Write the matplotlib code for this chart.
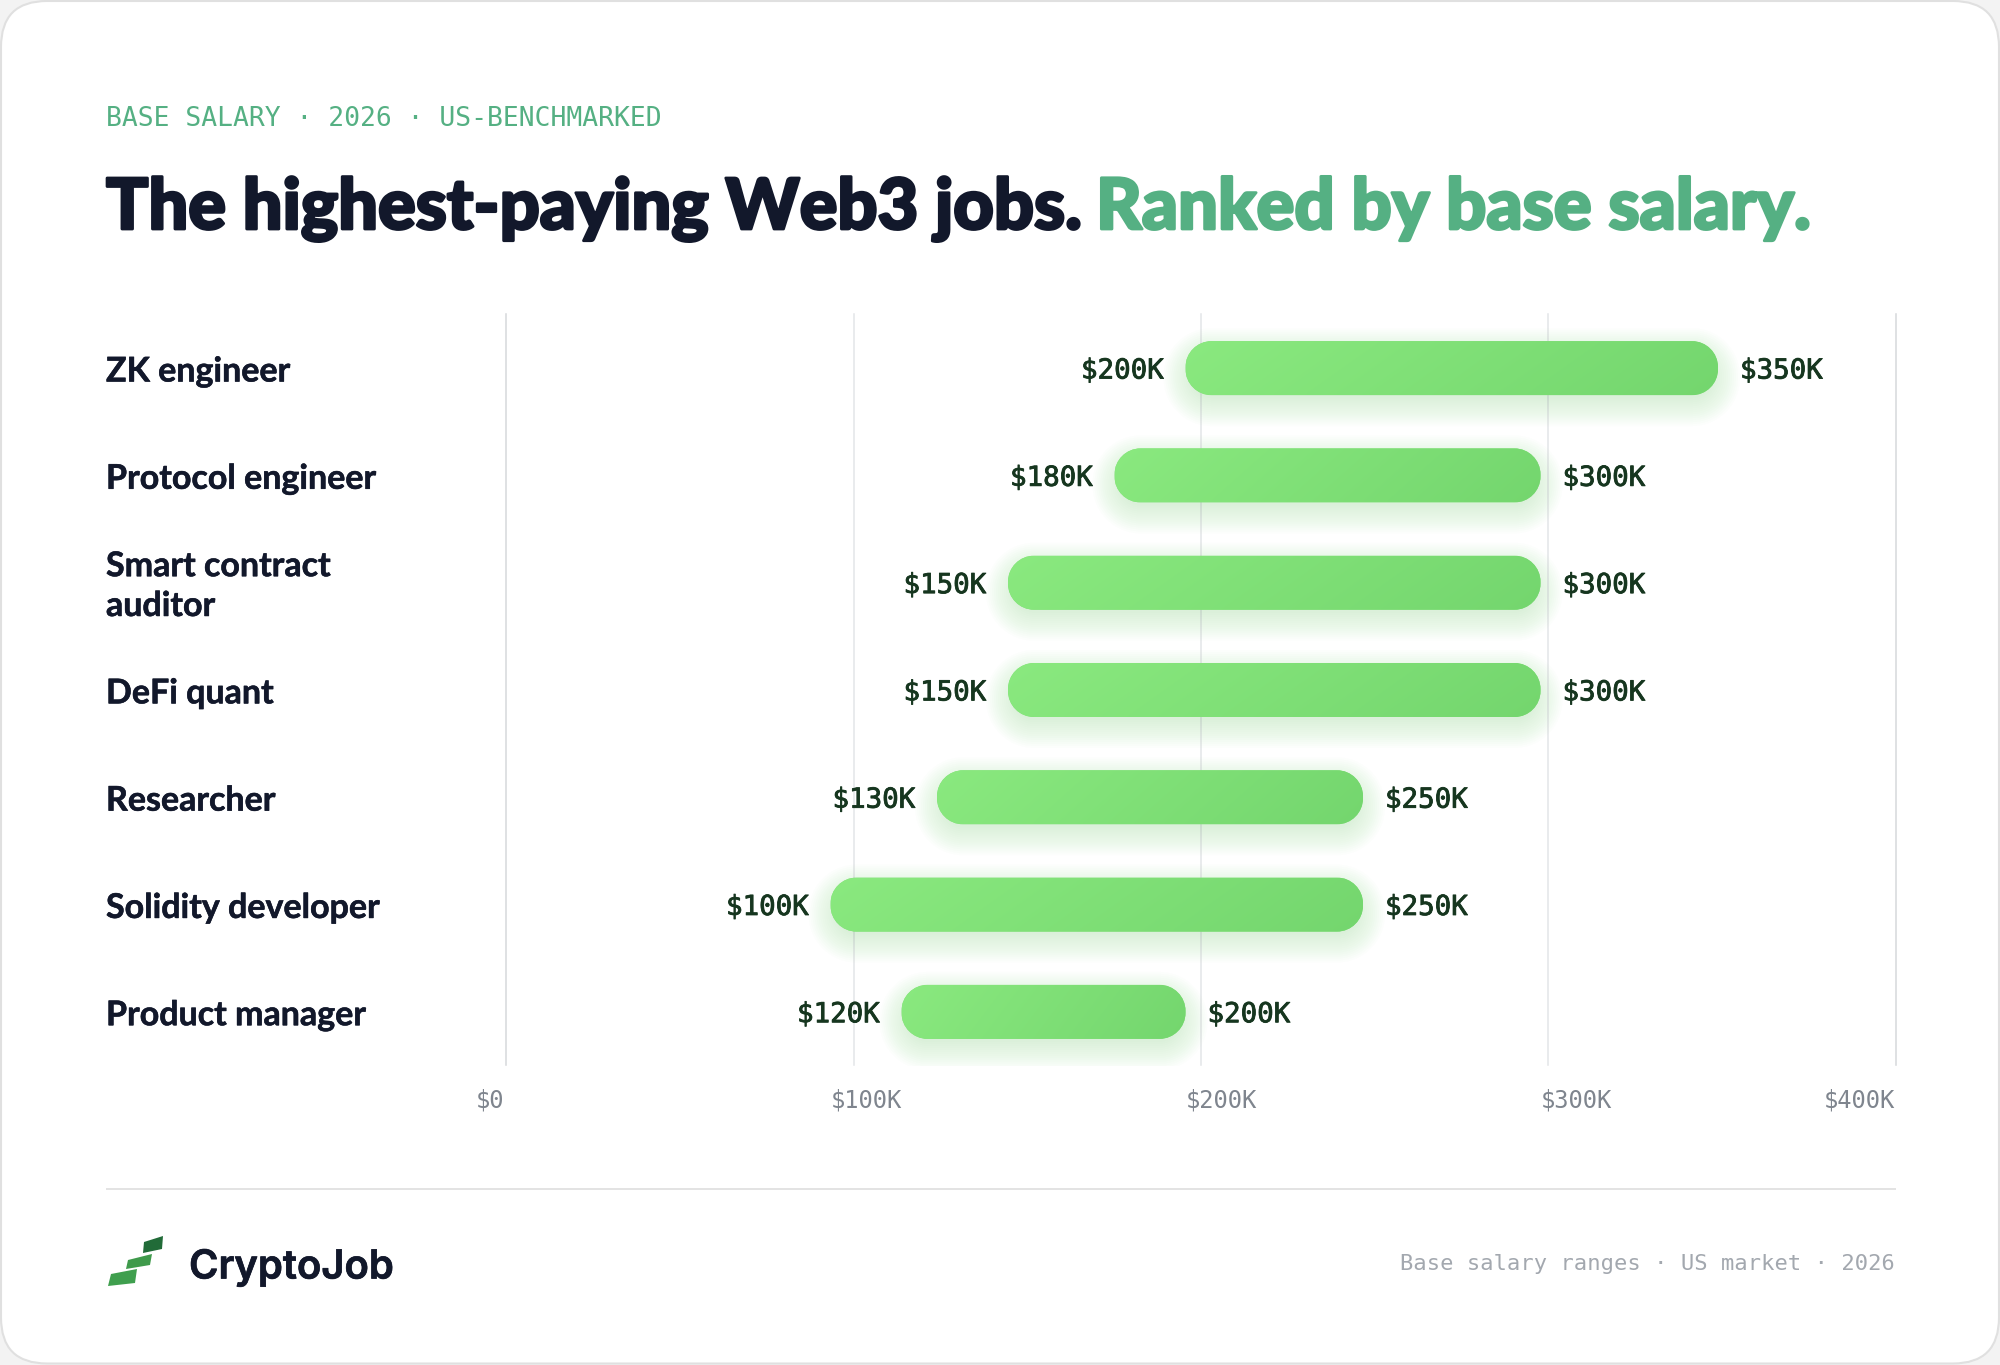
import numpy as np
import matplotlib
matplotlib.use("Agg")
import matplotlib.pyplot as plt
import matplotlib.patheffects as pe
from matplotlib.patches import FancyBboxPatch, Polygon
from matplotlib.path import Path

roles = ["ZK engineer", "Protocol engineer", "Smart contract\nauditor", "DeFi quant",
         "Researcher", "Solidity developer", "Product manager"]
low_k = [200, 180, 150, 150, 130, 100, 120]
high_k = [350, 300, 300, 300, 250, 250, 200]
tick_values = [0, 100, 200, 300, 400]
tick_labels = ["$0", "$100K", "$200K", "$300K", "$400K"]

W, H = 2000, 1365
INK = "#12182b"
ACCENT = "#55b083"
HEAD = "Lato"
MONO = "DejaVu Sans Mono"

fig = plt.figure(figsize=(W / 100, H / 100), dpi=100, facecolor="#f3f3f3")


def rect(x0, y0, x1, y1):
    return [x0 / W, 1 - y1 / H, (x1 - x0) / W, (y1 - y0) / H]


def px(size):
    return size * 0.72


def heavy(width, color):
    return [pe.withStroke(linewidth=width, foreground=color)]


def circular_box(r, pad=0.0):
    """Box style with true circular corners; r and pad in x-data units."""
    k = 0.5523 * 1.0

    def style(x0, y0, w, h, mutation_size):
        a, b = x0 - pad, y0 - pad
        c, d = x0 + w + pad, y0 + h + pad
        q = min(r, (d - b) / 2)
        s = q * (1 - k)
        verts = [(a + q, b), (c - q, b), (c - s, b), (c, b + s), (c, b + q),
                 (c, d - q), (c, d - s), (c - s, d), (c - q, d),
                 (a + q, d), (a + s, d), (a, d - s), (a, d - q),
                 (a, b + q), (a, b + s), (a + s, b), (a + q, b), (a + q, b)]
        codes = [Path.MOVETO, Path.LINETO, Path.CURVE4, Path.CURVE4, Path.CURVE4,
                 Path.LINETO, Path.CURVE4, Path.CURVE4, Path.CURVE4,
                 Path.LINETO, Path.CURVE4, Path.CURVE4, Path.CURVE4,
                 Path.LINETO, Path.CURVE4, Path.CURVE4, Path.CURVE4, Path.CLOSEPOLY]
        return Path(verts, codes)

    return style


bg = fig.add_axes([0, 0, 1, 1], zorder=0)
bg.set_xlim(0, W)
bg.set_ylim(H, 0)
bg.axis("off")
bg.add_patch(FancyBboxPatch((1, 1), W - 2, H - 2.5, boxstyle="round,pad=0,rounding_size=46",
                            fc="white", ec="#e0e0e0", lw=1.5))

# grid on its own even scale
g = fig.add_axes(rect(506.5, 314, 1895.5, 1065), zorder=1)
g.set_xlim(0, 400)
g.set_ylim(0, 1)
g.axis("off")
for v in tick_values:
    edge = v in (tick_values[0], tick_values[-1])
    g.axvline(v, color="#d6d8db" if edge else "#e3e5e8", lw=1.1, clip_on=False)

# bars
X0, X1 = 475.5, 1895.5
ax = fig.add_axes(rect(X0, 314.5, X1, 1065.5), zorder=2)
ax.patch.set_alpha(0)
ax.axis("off")
ax.set_xlim(0, 400)
ax.set_ylim(len(roles) - 0.5, -0.5)
ppx = (X1 - X0) / 400
ppy = (1065 - 314) / len(roles)
aspect = ppx / ppy
BAR_H = 54 / ppy

start_col = np.array(matplotlib.colors.to_rgb("#8ae97f"))
end_col = np.array(matplotlib.colors.to_rgb("#74d66e"))
for i, (lo, hi) in enumerate(zip(low_k, high_k)):
    # soft glow, offset downward
    for pad in np.arange(22, -8, -2):
        ax.add_patch(FancyBboxPatch((lo, i - BAR_H / 2 + 9 / ppy), hi - lo, BAR_H,
                                    boxstyle=circular_box((26 + pad) / ppx, pad / ppx),
                                    mutation_aspect=aspect, fc="#6fd86c", ec="none", alpha=0.014,
                                    zorder=2))
    patch = FancyBboxPatch((lo, i - BAR_H / 2), hi - lo, BAR_H,
                           boxstyle=circular_box(26 / ppx), mutation_aspect=aspect,
                           fc="#80e078", ec="none", zorder=3)
    ax.add_patch(patch)
    u, v = np.meshgrid(np.linspace(0, 1, 200), np.linspace(0, 1, 20))
    t = (0.88 * u + 0.12 * v)[..., None]
    grad = start_col * (1 - t) + end_col * t
    im = ax.imshow(grad, extent=(lo, hi, i + BAR_H / 2, i - BAR_H / 2), aspect="auto",
                   zorder=4, interpolation="bilinear")
    im.set_clip_path(patch)
    for val, off, ha in ((lo, -22, "right"), (hi, 22, "left")):
        ax.text(val + off / ppx, i - 0.6 / ppy, f"${val}K", ha=ha, va="center_baseline", family=MONO,
                fontsize=px(27.5), color="#16361f", zorder=5,
                path_effects=heavy(0.6, "#16361f"))
ax.set_xlim(0, 400)
ax.set_ylim(len(roles) - 0.5, -0.5)

for i, role in enumerate(roles):
    bg.text(106, 371.5 + i * ppy, role, ha="left", va="center", family=HEAD, weight="bold",
            fontsize=px(34), color=INK, linespacing=1.3, path_effects=heavy(0.4, INK))

# x labels, anchored on the bar scale
for v, lab in zip(tick_values, tick_labels):
    ax.annotate(lab, (v, 1), xycoords=("data", "axes fraction"), xytext=(0, -1100 + 314),
                textcoords="offset pixels", ha="right" if v == 400 else "left", va="center",
                family=MONO, fontsize=px(23.8), color="#7f858e", annotation_clip=False)

# header
bg.text(106, 119, "BASE SALARY · 2026 · US-BENCHMARKED", ha="left", va="center", family=MONO,
        fontsize=px(26.45), color=ACCENT)
bg.text(106, 229, "The highest-paying Web3 jobs.", ha="left", va="baseline", family=HEAD,
        weight="black", fontsize=px(70.3), color=INK, path_effects=heavy(2.0, INK))
bg.text(1096, 229, "Ranked by base salary.", ha="left", va="baseline", family=HEAD,
        weight="black", fontsize=px(70.6), color=ACCENT, path_effects=heavy(2.0, ACCENT))

# footer
bg.plot([106, 1895.5], [1189, 1189], color="#e3e3e3", lw=1.4, solid_capstyle="butt")
for pts, col in [([(108, 1286), (111, 1274), (137, 1269), (135, 1283)], "#3f9f4e"),
                 ([(126, 1269), (128, 1260), (152, 1254), (150, 1265)], "#3f9a4b"),
                 ([(143, 1253), (144, 1242), (163, 1236), (162, 1249)], "#216b38")]:
    bg.add_patch(Polygon(pts, closed=True, fc=col, ec="none"))
bg.text(189, 1268, "CryptoJob", ha="left", va="center", family="Inter", weight="semibold",
        fontsize=px(40), color=INK, path_effects=heavy(0.5, INK))
bg.text(1895, 1263.5, "Base salary ranges · US market · 2026", ha="right", va="center", family=MONO,
        fontsize=px(22.2), color="#a3a8af")

fig.savefig("out.png", dpi=100, facecolor=fig.get_facecolor())
